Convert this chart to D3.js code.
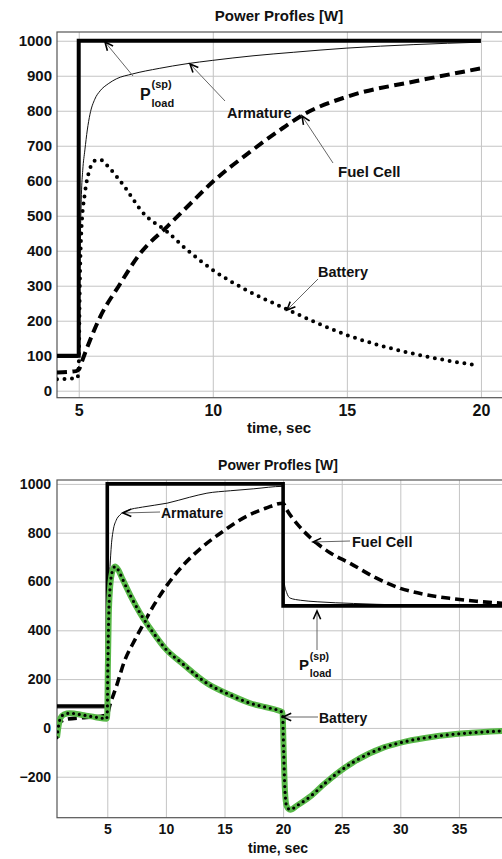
<!DOCTYPE html>
<html><head><meta charset="utf-8">
<script src="https://cdn.jsdelivr.net/npm/d3@7"></script>
<style>
body{margin:0;background:#fff;}
svg{display:block;font-family:"Liberation Sans",Arial,sans-serif;font-weight:bold;}
</style></head>
<body><svg id="c" width="502" height="859"></svg>
<script>
// ---------- Top chart data ----------
const topTitle = "Power Profles [W]";
const xLabel = "time, sec";
const topXTicks = [5, 10, 15, 20];
const topYTicks = [0, 100, 200, 300, 400, 500, 600, 700, 800, 900, 1000];
const topLoad = [[4.19,100],[5,100],[5,1000],[20,1000]];
const topArmature = [[4.19,95],[4.98,95],[5.02,250],[5.06,430],[5.1,560],[5.15,630],[5.23,688],[5.32,745],[5.42,790],[5.6,833],[5.8,857],[6.1,877],[6.4,891],[7,905],[8,921],[9,934],[10,944],[11.5,957],[13,967],[15,979],[17.5,989],[20,996]];
const topFuel = [[4.19,52],[4.9,56],[5.0,60],[5.15,90],[5.4,140],[5.8,211],[6.5,300],[7.3,393],[8.3,469],[9,522],[10,597],[11.4,683],[12.6,750],[13.4,790],[15,840],[17.6,885],[20,921]];
const topBattery = [[4.19,33],[4.95,36],[5.0,70],[5.04,300],[5.1,460],[5.23,564],[5.4,630],[5.6,657],[5.8,660],[6.1,640],[6.54,600],[7.5,500],[8.27,456],[9,405],[10,345],[11.24,288],[12.7,235],[15,159],[17.4,107],[19.8,73]];

// ---------- Bottom chart data ----------
const botXTicks = [5, 10, 15, 20, 25, 30, 35];
const botYTicks = [-200, 0, 200, 400, 600, 800, 1000];
const botLoad = [[0.71,90],[5,90],[5,1000],[20,1000],[20,500],[38.93,500]];
const botArmature = [[0.71,82],[4.98,82],[5.03,350],[5.1,560],[5.23,661],[5.35,750],[5.51,811],[5.75,850],[6.08,873],[6.65,890],[8,905],[10.1,921],[12,945],[13.5,962],[15.5,972],[17.5,980],[19.97,990],[20.03,700],[20.1,594],[20.3,555],[20.6,532],[21.5,523],[22.9,517],[26,510],[30,504],[35,501],[38.93,500]];
const botFuel = [[0.71,5],[1.0,25],[1.5,35],[3,42],[4.5,48],[5.0,55],[5.2,90],[5.77,169],[6.5,278],[7.2,347],[7.8,401],[9,505],[10.1,585],[11.5,668],[12.9,733],[15,810],[16.9,868],[18.5,900],[20,921],[20.3,895],[21.4,825],[22.6,768],[24,718],[25.7,675],[27.8,618],[30,572],[32,548],[34.2,531],[36.5,519],[38.93,510]];
const botBattery = [[0.71,-40],[0.85,10],[1.0,40],[1.3,55],[1.8,60],[3,52],[4,44],[4.95,38],[5.0,60],[5.05,250],[5.12,450],[5.25,580],[5.45,645],[5.66,661],[5.9,650],[6.3,610],[7,540],[7.8,470],[9,385],[9.9,328],[11.5,260],[13.5,183],[15.5,135],[17.2,101],[18.5,85],[19.95,64],[20.05,-100],[20.15,-250],[20.3,-320],[20.6,-335],[21.2,-318],[22.3,-282],[23.5,-230],[24.6,-186],[26,-140],[28.6,-80],[30.5,-55],[32.8,-36],[35.5,-22],[38.93,-12]];

const svg = d3.select("#c");

function panel(cfg){
  const g = svg.append("g");
  const x = d3.scaleLinear().domain(cfg.xDomain).range([cfg.left, cfg.right]);
  const y = d3.scaleLinear().domain(cfg.yDomain).range([cfg.bottom, cfg.top]);
  const id = "clip"+cfg.id;
  svg.append("clipPath").attr("id", id).append("rect")
    .attr("x", cfg.left).attr("y", cfg.top).attr("width", cfg.right-cfg.left).attr("height", cfg.bottom-cfg.top);
  const ya = g.append("g").attr("transform", `translate(${cfg.left},0)`)
    .call(d3.axisLeft(y).tickValues(cfg.yTicks).tickSize(-(cfg.right-cfg.left)).tickPadding(cfg.yPad).tickFormat(d3.format("d")));
  ya.select(".domain").remove();
  ya.selectAll("line").attr("stroke", "#c4c4c4");
  ya.selectAll("text").attr("font-size", cfg.fs).attr("fill", "#111").attr("font-family","Liberation Sans, Arial, sans-serif").attr("font-weight","bold");
  const xa = g.append("g").attr("transform", `translate(0,${cfg.bottom})`)
    .call(d3.axisBottom(x).tickValues(cfg.xTicks).tickSize(-(cfg.bottom-cfg.top)).tickPadding(cfg.xPad).tickFormat(d3.format("d")));
  xa.select(".domain").remove();
  xa.selectAll("line").attr("stroke", "#c4c4c4");
  xa.selectAll("text").attr("font-size", cfg.xfs).attr("fill", "#111").attr("font-family","Liberation Sans, Arial, sans-serif").attr("font-weight","bold");
  g.append("rect").attr("x", cfg.left).attr("y", cfg.top).attr("width", cfg.right-cfg.left).attr("height", cfg.bottom-cfg.top)
    .attr("fill","none").attr("stroke","#555").attr("stroke-width",1.2);
  g.append("text").attr("x", cfg.titleX).attr("y", cfg.titleY).attr("text-anchor","middle")
    .attr("font-size", cfg.titleFs).attr("fill","#111").text(topTitle);
  g.append("text").attr("x", cfg.xlabX).attr("y", cfg.xlabY).attr("text-anchor","middle")
    .attr("font-size", cfg.titleFs).attr("fill","#111").text(xLabel);
  const lines = g.append("g").attr("clip-path", `url(#${id})`);
  return {x, y, lines, g};
}

function addLine(p, data, style, curve){
  const gen = d3.line().x(d=>p.x(d[0])).y(d=>p.y(d[1])).curve(curve || d3.curveLinear);
  const path = p.lines.append("path").datum(data).attr("d", gen).attr("fill","none");
  Object.entries(style).forEach(([k,v])=>path.attr(k,v));
  return path;
}

function arrow(x1,y1,x2,y2){
  const a = Math.atan2(y2-y1, x2-x1);
  const L = 9, s = 0.42;
  svg.append("line").attr("x1",x1).attr("y1",y1).attr("x2",x2).attr("y2",y2)
    .attr("stroke","#666").attr("stroke-width",1);
  const p1 = [x2 - L*Math.cos(a - s), y2 - L*Math.sin(a - s)];
  const p2 = [x2 - L*Math.cos(a + s), y2 - L*Math.sin(a + s)];
  svg.append("path").attr("d", `M${p1[0]},${p1[1]}L${x2},${y2}L${p2[0]},${p2[1]}`)
    .attr("fill","none").attr("stroke","#000").attr("stroke-width",1.6);
}
function label(x,y,t,fs){
  svg.append("text").attr("x",x).attr("y",y).attr("font-size",fs).attr("fill","#111").text(t);
}
function pload(x,y,fs,sfs,supDy,subDy){
  label(x,y,"P",fs);
  label(x+fs*0.72,y+supDy,"(sp)",sfs);
  label(x+fs*0.72,y+subDy,"load",sfs);
}

// ---------- Top panel ----------
const curve = d3.curveMonotoneX;
const pt = panel({id:"t", left:57, right:504, top:32, bottom:397.7,
  xDomain:[4.19,20.86], yDomain:[-20,1025], xTicks:topXTicks, yTicks:topYTicks,
  fs:15, xfs:16, yPad:5, xPad:7, titleFs:15, titleX:279, titleY:21, xlabX:279, xlabY:433});
addLine(pt, topFuel, {"stroke":"#000","stroke-width":4,"stroke-dasharray":"10,5.5"}, curve);
addLine(pt, topBattery, {"stroke":"#000","stroke-width":4,"stroke-dasharray":"0,7.5","stroke-linecap":"round"}, curve);
addLine(pt, topArmature, {"stroke":"#111","stroke-width":1}, curve);
addLine(pt, topLoad, {"stroke":"#000","stroke-width":4});

arrow(133,76,105,42);
pload(140,100,16,11,-12,7);
arrow(225,101,190,64);
label(227,118,"Armature",14.5);
arrow(333,163,302,116);
label(338,177,"Fuel Cell",15);
arrow(318,279,287,310);
label(318,277,"Battery",14.5);

// ---------- Bottom panel ----------
const pb = panel({id:"b", left:57, right:505, top:480, bottom:817.7,
  xDomain:[0.71,38.93], yDomain:[-368,1016], xTicks:botXTicks, yTicks:botYTicks,
  fs:14, xfs:14, yPad:6, xPad:6, titleFs:14, titleX:278, titleY:470, xlabX:278, xlabY:853});
addLine(pb, botFuel, {"stroke":"#000","stroke-width":3.6,"stroke-dasharray":"9,5"}, curve);
addLine(pb, botArmature, {"stroke":"#111","stroke-width":1}, curve);
addLine(pb, botLoad, {"stroke":"#000","stroke-width":3.6});
addLine(pb, botBattery, {"stroke":"#58b848","stroke-width":6,"stroke-linejoin":"round"}, curve);
addLine(pb, botBattery, {"stroke":"#000","stroke-width":3.2,"stroke-dasharray":"0,5.8","stroke-linecap":"round"}, curve);

arrow(160,512,123,513);
label(161,518,"Armature",14);
arrow(350,541,313,542);
label(352,547,"Fuel Cell",14.5);
arrow(317,650,317,611);
pload(299,670,15,10.5,-10,7);
arrow(318,717,283,717);
label(319,723,"Battery",14);
</script></body></html>
